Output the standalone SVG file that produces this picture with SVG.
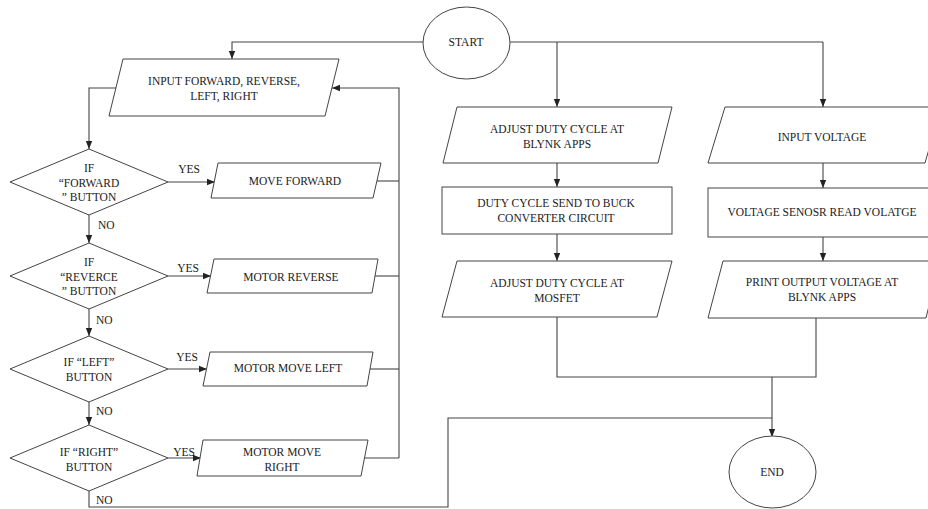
<svg xmlns="http://www.w3.org/2000/svg" width="928" height="509" viewBox="0 0 928 509">
<defs>
<marker id="ah" viewBox="0 0 8 8" refX="8" refY="4" markerWidth="8" markerHeight="8" markerUnits="userSpaceOnUse" orient="auto">
<path d="M0,0.8 L8,4 L0,7.2 Z" fill="#222"/>
</marker>
<style>
.s{fill:#fff;stroke:#444;stroke-width:1}
.c{fill:none;stroke:#444;stroke-width:1.1}
.a{marker-end:url(#ah)}
text{font-family:"Liberation Serif","Times New Roman",serif;font-size:11.5px;fill:#1a1a1a;text-anchor:middle;dominant-baseline:central}
.l{text-anchor:start}
</style>
</defs>
<rect width="928" height="509" fill="#fff"/>
<g id="connectors">
<path class="c a" d="M423,42 H232 V59"/>
<path class="c" d="M510,42 H823"/>
<path class="c a" d="M557,42 V107"/>
<path class="c a" d="M823,42 V107"/>
<path class="c a" d="M116,88 H89 V149"/>
<path class="c a" d="M399,458 V88 H332"/>
<path class="c" d="M377,181 H399"/>
<path class="c" d="M375,276 H399"/>
<path class="c" d="M370,369 H399"/>
<path class="c" d="M365,458 H399"/>
<path class="c a" d="M168,182 H215"/>
<path class="c a" d="M168,276 H211"/>
<path class="c a" d="M168,369 H207"/>
<path class="c a" d="M168,458 H201"/>
<path class="c a" d="M89,215 V243"/>
<path class="c a" d="M89,309 V336"/>
<path class="c a" d="M89,402 V425"/>
<path class="c" d="M89,491 V507 H448 V418 H772"/>
<path class="c a" d="M557,163 V187"/>
<path class="c a" d="M557,234 V261"/>
<path class="c a" d="M823,163 V188"/>
<path class="c a" d="M823,237 V261"/>
<path class="c" d="M557,317 V377 H816 V317"/>
<path class="c a" d="M772,377 V437"/>
</g>
<g id="start">
<ellipse class="s" cx="466.5" cy="43" rx="43.5" ry="36"/>
<text x="466" y="42">START</text>
</g>
<g id="input-dir">
<polygon class="s" points="123,59 339,59 325,116 109,116"/>
<text x="224" y="81">INPUT FORWARD, REVERSE,</text>
<text x="224" y="96">LEFT, RIGHT</text>
</g>
<g id="if-forward">
<polygon class="s" points="89,149 168,182 89,215 10,182"/>
<text x="89" y="168">IF</text>
<text x="89" y="183">“FORWARD</text>
<text x="89" y="197">” BUTTON</text>
</g>
<g id="move-forward">
<polygon class="s" points="218,163 381,163 373,198 211,198"/>
<text x="295" y="181">MOVE FORWARD</text>
</g>
<g id="if-reverce">
<polygon class="s" points="89,243 168,276 89,309 10,276"/>
<text x="89" y="262">IF</text>
<text x="89" y="277">“REVERCE</text>
<text x="89" y="291">” BUTTON</text>
</g>
<g id="motor-reverse">
<polygon class="s" points="214,259 378,259 372,293 207,293"/>
<text x="291" y="277">MOTOR REVERSE</text>
</g>
<g id="if-left">
<polygon class="s" points="89,336 168,369 89,402 10,369"/>
<text x="89" y="362">IF “LEFT”</text>
<text x="89" y="377">BUTTON</text>
</g>
<g id="motor-left">
<polygon class="s" points="210,352 373,352 367,386 203,386"/>
<text x="288" y="368">MOTOR MOVE LEFT</text>
</g>
<g id="if-right">
<polygon class="s" points="89,425 168,458 89,491 10,458"/>
<text x="89" y="452">IF “RIGHT”</text>
<text x="89" y="467">BUTTON</text>
</g>
<g id="motor-right">
<polygon class="s" points="203,440 368,440 361,476 197,476"/>
<text x="282" y="452">MOTOR MOVE</text>
<text x="282" y="467">RIGHT</text>
</g>
<g id="labels">
<text x="189" y="169">YES</text>
<text x="188" y="268">YES</text>
<text x="187" y="357">YES</text>
<text x="184" y="452">YES</text>
<text class="l" x="98" y="225">NO</text>
<text class="l" x="96" y="320">NO</text>
<text class="l" x="96" y="411">NO</text>
<text class="l" x="96" y="500">NO</text>
</g>
<g id="adjust-blynk">
<polygon class="s" points="457,107 672,107 658,163 443,163"/>
<text x="557" y="129">ADJUST DUTY CYCLE AT</text>
<text x="557" y="144">BLYNK APPS</text>
</g>
<g id="send-buck">
<rect class="s" x="442" y="187" width="230" height="47"/>
<text x="556" y="203">DUTY CYCLE SEND TO BUCK</text>
<text x="556" y="218">CONVERTER CIRCUIT</text>
</g>
<g id="adjust-mosfet">
<polygon class="s" points="457,261 672,261 657,317 442,317"/>
<text x="557" y="283">ADJUST DUTY CYCLE AT</text>
<text x="557" y="298">MOSFET</text>
</g>
<g id="input-voltage">
<polygon class="s" points="725,107 941,107 925,163 708,163"/>
<text x="822" y="137">INPUT VOLTAGE</text>
</g>
<g id="sensor-read">
<rect class="s" x="708" y="188" width="230" height="49"/>
<text x="822" y="212">VOLTAGE SENOSR READ VOLATGE</text>
</g>
<g id="print-output">
<polygon class="s" points="723,261 940,261 926,318 708,318"/>
<text x="822" y="282">PRINT OUTPUT VOLTAGE AT</text>
<text x="822" y="297">BLYNK APPS</text>
</g>
<g id="end">
<ellipse class="s" cx="772.5" cy="472" rx="43.5" ry="36"/>
<text x="772" y="472">END</text>
</g>
</svg>
